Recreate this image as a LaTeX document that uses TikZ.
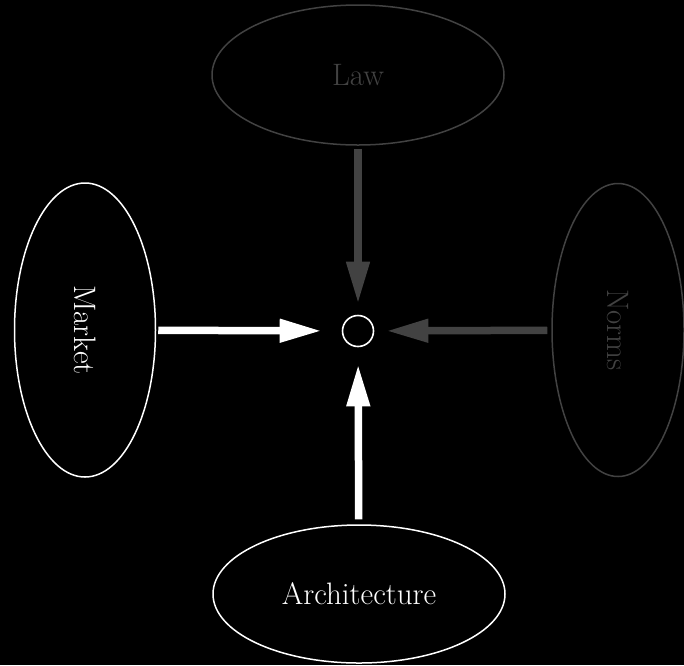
\documentclass[tikz,border=0pt]{standalone}
\usepackage{tikz}
\usetikzlibrary{arrows.meta, shapes.geometric}
\usepackage{xcolor}
\definecolor{dimgrey}{HTML}{424242}

\begin{document}
\begin{tikzpicture}[
    x=1pt, y=-1pt,
    force node/.style={ellipse, draw, line width=1.5pt, inner sep=0pt, font=\fontsize{31}{36}\selectfont},
    bright/.style={draw=white, text=white},
    dim/.style={draw=dimgrey, text=dimgrey},
    push/.style={line width=7.5pt, -{Triangle[length=42pt, width=22pt]}}
]
    % Background
    \fill[black] (0,0) rectangle (684,665);
    \useasboundingbox (0,0) rectangle (684,665);

    % Nodes
    \node[force node, dim, minimum width=292pt, minimum height=140pt] (law) at (358,75) {Law};
    \node[force node, bright, rotate=-90, minimum width=294pt, minimum height=141pt] (market) at (85,330) {Market};
    \node[force node, dim, rotate=-90, minimum width=293pt, minimum height=132pt] (norms) at (618,330) {Norms};
    \node[force node, bright, minimum width=292pt, minimum height=138pt] (arch) at (359,594) {Architecture};
    \node[circle, draw=white, line width=1.6pt, minimum size=31pt] (dot) at (358,331) {};

    % Edges
    \draw[push, white, shorten <=2pt, shorten >=20pt] (market) -- (dot);
    \draw[push, dimgrey, shorten <=4pt, shorten >=12pt] (norms) -- (dot);
    \draw[push, dimgrey, shorten <=3pt, shorten >=11pt] (law) -- (dot);
    \draw[push, white, shorten <=5pt, shorten >=17pt] (arch) -- (dot);
\end{tikzpicture}
\end{document}
